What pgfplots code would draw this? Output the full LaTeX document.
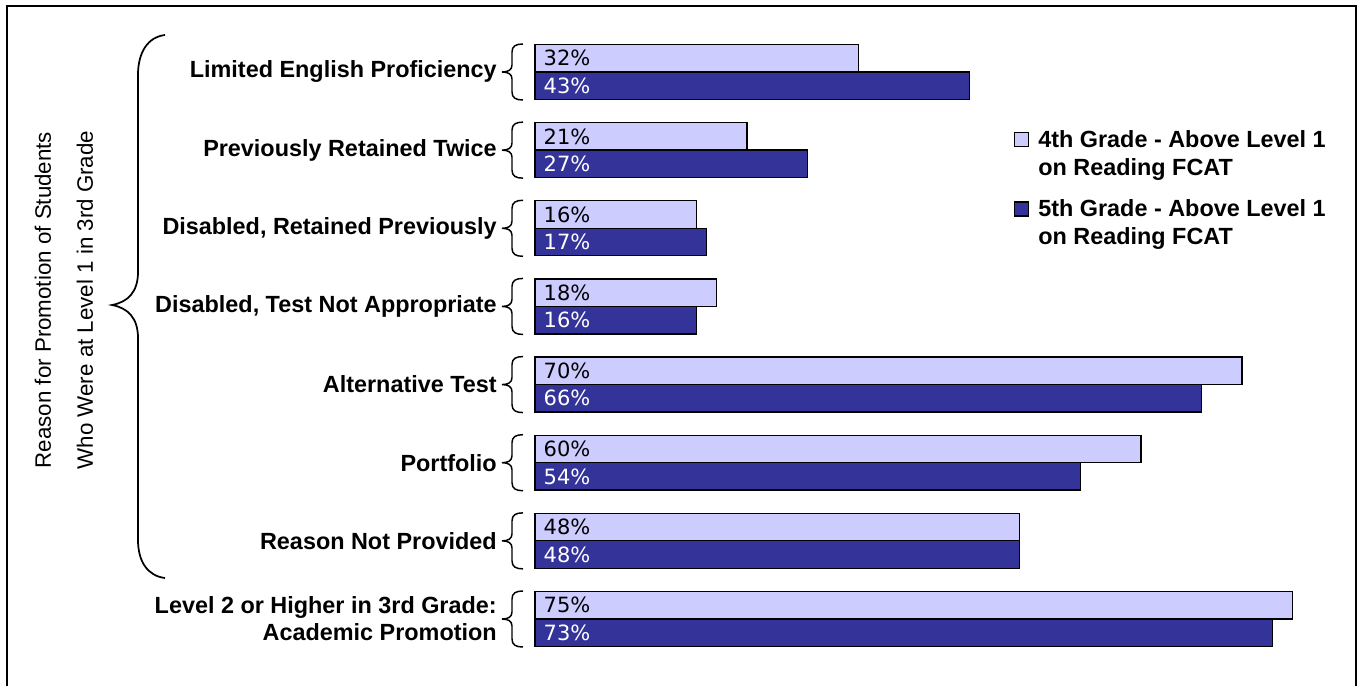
\documentclass[border=0pt]{standalone}
\usepackage{pgfplots}
\pgfplotsset{compat=1.18}
\usepackage{fontspec}
\setmainfont{Liberation Sans}
\newfontfamily\labfont{DejaVu Sans}
\definecolor{light}{HTML}{CCCCFF}
\definecolor{dark}{HTML}{333399}
\pgfplotsset{
  sqlegend/.style={legend image code/.code={\path (0pt,0pt) (18.75pt,0pt); \draw[##1,draw=black,line width=0.8pt] (1.5pt,-6pt) rectangle (12pt,4.5pt);}},
}
\begin{document}
\begin{tikzpicture}[x=0.75pt,y=-0.75pt]
\useasboundingbox (0,0) rectangle (1359,685);
\draw[line width=1.5pt] (7,690) -- (7,6) -- (1356,6) -- (1356,690);
\begin{axis}[
  at={(401.25pt,-24.70pt)}, anchor=north west,
  scale only axis, width=606pt, height=468.8pt,
  xmin=0, xmax=80, ymin=-0.5, ymax=7.5,
  axis line style={draw=none},
  xtick=\empty,
  ytick={0,...,7},
  yticklabels={{Level 2 or Higher in 3rd Grade:\\Academic Promotion}, Reason Not Provided, Portfolio, Alternative Test, {Disabled, Test Not Appropriate}, {Disabled, Retained Previously}, Previously Retained Twice, Limited English Proficiency},
  major tick length=0pt,
  yticklabel style={font=\bfseries\fontsize{17.55pt}{20.25pt}\selectfont, align=right, anchor=east, inner sep=0pt, xshift=-28.5pt},
  legend style={at={(0.590,0.849)}, anchor=north west, draw=none, fill=none, inner sep=0pt, row sep=36pt, column sep=0pt, nodes={inner sep=0pt}, font=\bfseries\fontsize{17.55pt}{21pt}\selectfont},
  legend cell align=left,
  clip=false,
  /pgf/number format/assume math mode=true,
]
\addplot[xbar, bar width=20.6pt, bar shift=10.3pt, fill=light, draw=black, line width=1pt, sqlegend,
  visualization depends on={x \as \rawx},
  nodes near coords={\pgfmathprintnumber{\pgfplotspointmeta}\%},
  every node near coord/.append style={anchor=west, inner sep=0pt, font=\labfont\fontsize{15.75pt}{17pt}\selectfont, text=black, shift={(axis direction cs:-\rawx,0)}, xshift=6pt, yshift=10.3pt}]
  coordinates {(75,0) (48,1) (60,2) (70,3) (18,4) (16,5) (21,6) (32,7)};
\addlegendentry{{\begin{tabular}[t]{@{}l@{}}4th Grade - Above Level 1\\on Reading FCAT\end{tabular}}}
\addplot[xbar, bar width=20.6pt, bar shift=-10.3pt, fill=dark, draw=black, line width=1pt, sqlegend,
  visualization depends on={x \as \rawx},
  nodes near coords={\pgfmathprintnumber{\pgfplotspointmeta}\%},
  every node near coord/.append style={anchor=west, inner sep=0pt, font=\labfont\fontsize{15.75pt}{17pt}\selectfont, text=white, shift={(axis direction cs:-\rawx,0)}, xshift=6pt, yshift=-10.3pt}]
  coordinates {(73,0) (48,1) (54,2) (66,3) (16,4) (17,5) (27,6) (43,7)};
\addlegendentry{{\begin{tabular}[t]{@{}l@{}}5th Grade - Above Level 1\\on Reading FCAT\end{tabular}}}
\end{axis}
\foreach \c in {72,150.14,228.29,306.43,384.57,462.71,540.86,619} {
  \draw[line width=1.1pt] ({523},{\c-28}) .. controls ({516},{\c-28}) and ({512},{\c-26}) .. ({512},{\c-20}) -- ({512},{\c-7}) .. controls ({512},{\c-2}) and ({508},{\c}) .. ({502},{\c}) .. controls ({508},{\c}) and ({512},{\c+2}) .. ({512},{\c+7}) -- ({512},{\c+20}) .. controls ({512},{\c+26}) and ({516},{\c+28}) .. ({523},{\c+28});
}
\draw[line width=1.3pt] (165,35) .. controls (148,37) and (138,52) .. (138,75) -- (138,272) .. controls (138,292) and (128,302) .. (112,305) .. controls (128,308) and (138,318) .. (138,338) -- (138,540) .. controls (138,562) and (148,576) .. (165,578);
\node[rotate=90, align=center, font=\fontsize{16.75pt}{31.5pt}\selectfont] at (64,300) {Reason for Promotion of Students\\Who Were at Level 1 in 3rd Grade};
\end{tikzpicture}
\end{document}
